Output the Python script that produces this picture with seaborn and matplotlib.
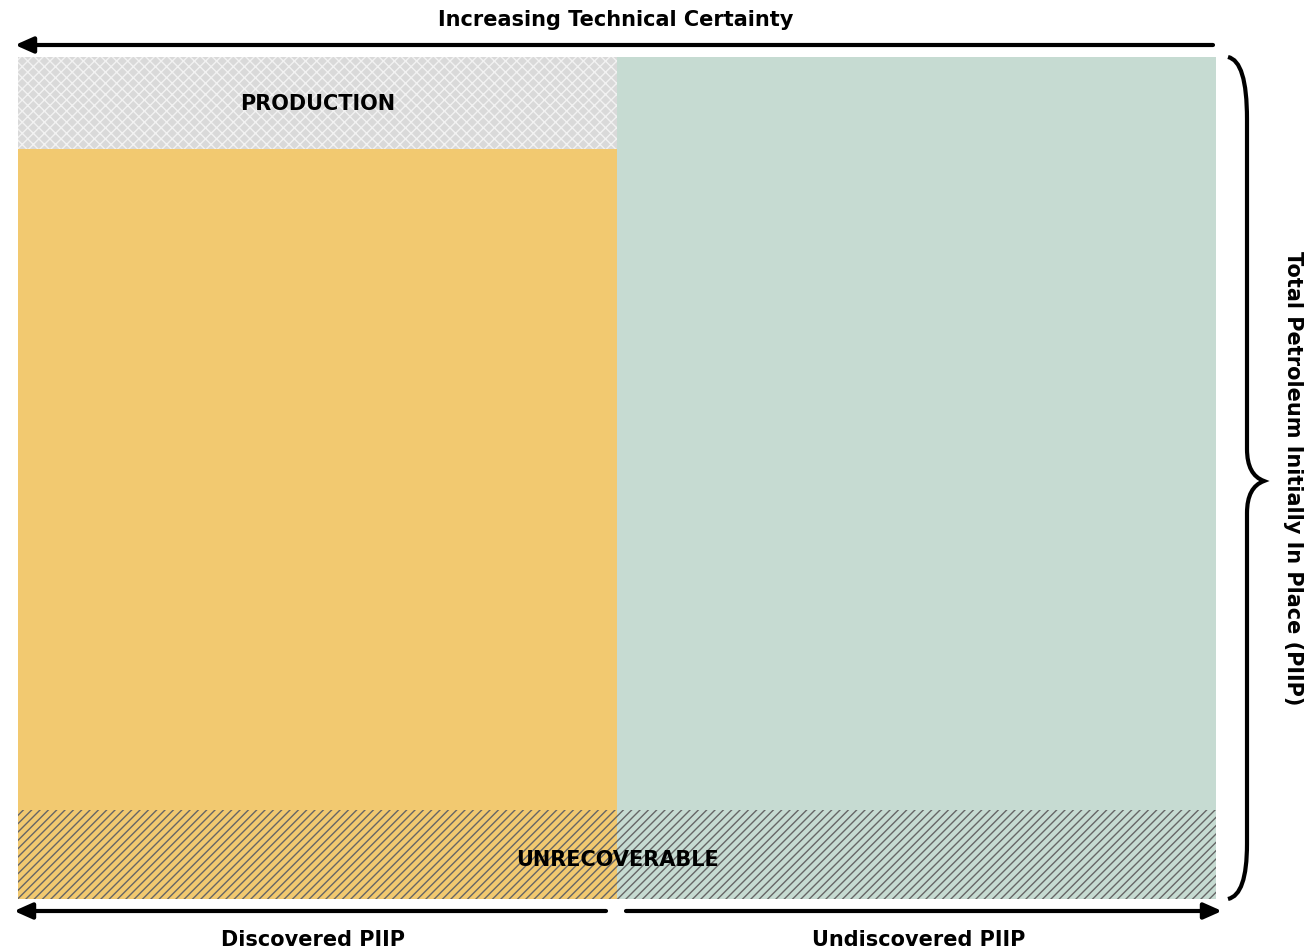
import matplotlib
matplotlib.use('Agg')
import matplotlib.pyplot as plt
from matplotlib.path import Path
from matplotlib.patches import PathPatch
import seaborn as sns
import pandas as pd

# Data: share of total PIIP (%) per column, bottom to top
columns = ['Discovered PIIP', 'Undiscovered PIIP']
unrecoverable = [10.6, 10.6]
recoverable = [78.5, 0.0]
prospective = [0.0, 89.4]
production = [10.9, 0.0]

band_labels = ['PRODUCTION', 'UNRECOVERABLE']
top_title = 'Increasing Technical Certainty'
side_title = 'Total Petroleum Initially In Place (PIIP)'

gray = '#D9D9D9'
yellow = '#F2C970'
teal = '#C6DBD2'
hatch_dark = '#666666'

sns.set_theme(style='white')
plt.rcParams['font.family'] = ['DejaVu Sans']
plt.rcParams['text.color'] = 'black'
plt.rcParams['hatch.linewidth'] = 1.0

W, H = 1310, 953
fig = plt.figure(figsize=(W / 100, H / 100), dpi=100)
ax = fig.add_axes([18 / W, 1 - 900 / H, (1216 - 18) / W, (900 - 58) / H])

df = pd.DataFrame({'col': columns, 'unrec': unrecoverable, 'rec': recoverable,
                   'pros': prospective, 'prod': production})
df['total'] = df['unrec'] + df['rec'] + df['pros'] + df['prod']
df['lower'] = df['unrec'] + df['rec'] + df['pros']

def layer(y, colors):
    n0 = len(ax.patches)
    sns.barplot(data=df, x='col', y=y, hue='col', palette=colors, saturation=1,
                width=1, legend=False, ax=ax, linewidth=0)
    return ax.patches[n0:]

top = layer('total', [gray, teal])
mid = layer('lower', [yellow, teal])
bot = layer('unrec', [yellow, teal])

# production texture
top[0].set_hatch('xxx')
top[0].set_edgecolor('#F2F2F2')
top[0].set_linewidth(0)
for p in bot:
    p.set_hatch('////')
    p.set_edgecolor(hatch_dark)
    p.set_linewidth(0)

ax.set_xlim(-0.5, 1.5)
ax.set_ylim(0, 100)
ax.axis('off')

# band labels
ax.text(0, df['lower'][0] + df['prod'][0] / 2, band_labels[0], ha='center', va='center',
        fontsize=15, fontweight='bold', color='black')
ax.text(0.5, df['unrec'][0] / 2 - 0.6, band_labels[1], ha='center', va='center',
        fontsize=15, fontweight='bold', color='black')

# overlay in pixel coordinates for arrows, brace and titles
ov = fig.add_axes([0, 0, 1, 1], zorder=5)
ov.set_xlim(0, W)
ov.set_ylim(H, 0)
ov.axis('off')
ov.patch.set_alpha(0)

arrow = dict(arrowstyle='-|>,head_length=0.9,head_width=0.4', lw=3, color='black',
             shrinkA=0, shrinkB=0)
ov.annotate('', xy=(15, 46), xytext=(1213, 46), arrowprops=arrow)
ov.annotate('', xy=(14, 912), xytext=(606, 912), arrowprops=arrow)
ov.annotate('', xy=(1222, 912), xytext=(626, 912), arrowprops=arrow)

ov.text(616, 20, top_title, ha='center', va='center', fontsize=15, fontweight='bold')
ov.text(313, 940, columns[0], ha='center', va='center', fontsize=15, fontweight='bold')
ov.text(919, 940, columns[1], ha='center', va='center', fontsize=15, fontweight='bold')
ov.text(1293, 478, side_title, ha='center', va='center', fontsize=15, fontweight='bold',
        rotation=-90)

# right brace
verts = [(1228, 58), (1247, 62), (1247, 120),
         (1247, 450),
         (1247, 476), (1264, 482),
         (1247, 488), (1247, 514),
         (1247, 845),
         (1247, 896), (1228, 900)]
codes = [Path.MOVETO, Path.CURVE3, Path.CURVE3,
         Path.LINETO,
         Path.CURVE3, Path.CURVE3,
         Path.CURVE3, Path.CURVE3,
         Path.LINETO,
         Path.CURVE3, Path.CURVE3]
ov.add_patch(PathPatch(Path(verts, codes), fill=False, lw=3, color='black'))

fig.savefig('out.png', dpi=100)
